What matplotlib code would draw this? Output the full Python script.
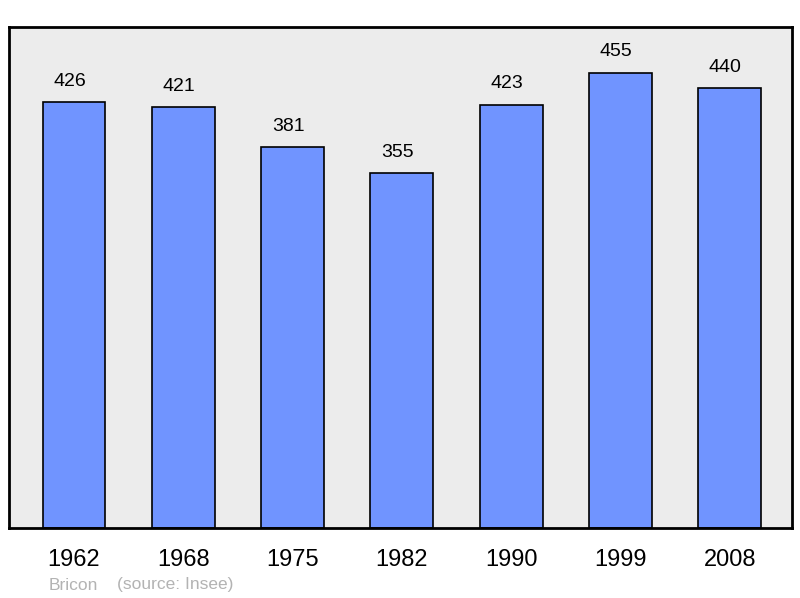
import numpy as np
import matplotlib
matplotlib.use("Agg")
from matplotlib import pyplot as plt

years = ["1962", "1968", "1975", "1982", "1990", "1999", "2008"]
population = [426, 421, 381, 355, 423, 455, 440]

plt.rcParams['font.family'] = ['Liberation Sans', 'DejaVu Sans']

fig = plt.figure(figsize=(8, 5.98), dpi=100)
ax = fig.add_axes([9/800, 70/598, 783/800, 501/598])
ax.set_facecolor('#ececec')

x = np.arange(len(years))
ax.bar(x, population, width=0.576, color='#7094ff', edgecolor='black', linewidth=1.2, zorder=2)

# value labels sit a touch left of the bar centres
for xi, v in zip(x, population):
    ax.text(xi - 0.04, v + 21, str(v), ha='center', va='center', fontsize=14)

ax.set_xlim(-0.595, 6.57)
ax.set_ylim(0, 501)
ax.set_yticks([])
ax.set_xticks(x)
ax.set_xticklabels(years, fontsize=17)
ax.tick_params(axis='x', length=0, pad=15)
for s in ax.spines.values():
    s.set_linewidth(2)

fig.text(49/800, 1 - 585/598, "Bricon", color='#b3b3b3', fontsize=12.5, va='center')
fig.text(117/800, 1 - 585/598, "(source: Insee)", color='#b3b3b3', fontsize=12.5, va='center')

fig.savefig("out.png", dpi=100)
